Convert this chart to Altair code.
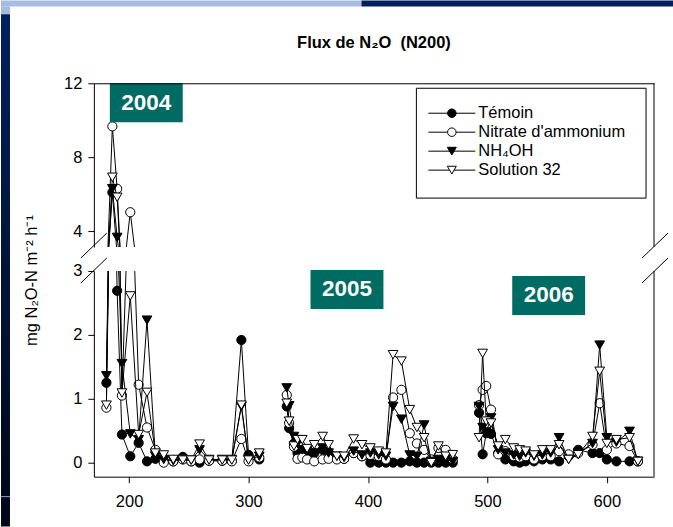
import altair as alt
import pandas as pd

# ---------------- data ----------------
series_names = ["Témoin", "Nitrate d'ammonium", "NH₄OH", "Solution 32"]

days_2004 = [181, 186, 190, 194, 201, 208, 215, 222, 229, 237, 245, 252, 259, 267, 278, 286, 294, 300, 309]
temoin_2004 = [1.25, 6.1, 2.69, 0.44, 0.10, 0.31, 0.02, 0.06, 0.03, 0.02, 0.09, 0.02, 0.00, 0.03, 0.03, 0.03, 1.92, 0.12, 0.05]
nitrate_2004 = [0.86, 9.67, 6.3, 1.05, 5.03, 1.22, 0.55, 0.20, 0.00, 0.02, 0.05, 0.02, 0.05, 0.03, 0.03, 0.02, 0.37, 0.02, 0.08]
nh4oh_2004 = [1.36, 6.3, 3.67, 1.55, 0.45, 0.36, 2.23, 0.10, 0.05, 0.03, 0.05, 0.04, 0.20, 0.05, 0.05, 0.05, 0.88, 0.05, 0.10]
sol32_2004 = [0.90, 6.92, 5.84, 1.09, 2.61, 0.44, 1.10, 0.15, 0.12, 0.05, 0.04, 0.04, 0.29, 0.04, 0.04, 0.04, 0.90, 0.04, 0.15]

days_2005 = [332, 334, 338, 341, 345, 349, 355, 362, 367, 374, 380, 388, 395, 402, 409, 415, 421, 428, 435, 441, 447, 453, 459, 465, 471]
temoin_2005 = [0.88, 0.54, 0.30, 0.15, 0.20, 0.12, 0.15, 0.20, 0.15, 0.08, 0.06, 0.15, 0.10, 0.00, 0.00, 0.00, 0.00, 0.00, 0.02, 0.00, 0.00, 0.00, 0.00, 0.00, 0.00]
nitrate_2005 = [1.06, 0.62, 0.25, 0.06, 0.08, 0.05, 0.02, 0.05, 0.06, 0.05, 0.06, 0.15, 0.10, 0.12, 0.10, 0.05, 1.02, 1.14, 0.46, 0.30, 0.20, 0.05, 0.23, 0.20, 0.05]
nh4oh_2005 = [1.17, 0.89, 0.41, 0.30, 0.20, 0.18, 0.15, 0.23, 0.15, 0.10, 0.08, 0.18, 0.12, 0.15, 0.12, 0.10, 0.88, 0.68, 0.12, 0.10, 0.59, 0.02, 0.05, 0.05, 0.02]
sol32_2005 = [0.93, 0.65, 0.26, 0.36, 0.36, 0.22, 0.28, 0.41, 0.28, 0.10, 0.10, 0.37, 0.28, 0.23, 0.18, 0.15, 1.69, 1.59, 0.83, 0.55, 0.39, 0.00, 0.26, 0.10, 0.125]

days_2006 = [493, 496, 499, 503, 509, 515, 522, 527, 532, 539, 546, 553, 560, 568, 576, 588, 594, 600, 608, 619, 626]
temoin_2006 = [0.78, 0.13, 0.46, 0.45, 0.15, 0.05, 0.02, 0.00, 0.02, 0.02, 0.05, 0.05, 0.02, 0.10, 0.20, 0.15, 0.15, 0.05, 0.02, 0.02, 0.02]
nitrate_2006 = [0.90, 1.14, 1.20, 0.83, 0.13, 0.18, 0.10, 0.08, 0.10, 0.05, 0.10, 0.10, 0.18, 0.13, 0.15, 0.28, 0.93, 0.20, 0.30, 0.26, 0.02]
nh4oh_2006 = [0.88, 0.55, 0.48, 0.70, 0.20, 0.15, 0.12, 0.10, 0.15, 0.10, 0.12, 0.15, 0.39, 0.05, 0.15, 0.30, 1.84, 0.39, 0.32, 0.49, 0.02]
sol32_2006 = [0.39, 1.71, 0.65, 0.62, 0.26, 0.36, 0.23, 0.20, 0.18, 0.12, 0.20, 0.20, 0.28, 0.05, 0.125, 0.41, 1.43, 0.30, 0.36, 0.39, 0.02]

year_labels = ["2004", "2005", "2006"]
x_ticks = [200, 300, 400, 500, 600]
y_ticks_low = [0, 1, 2, 3]
y_ticks_up = [4, 8, 12]

chart_title = "Flux de N₂O\u00a0 (N200)"
y_title = "mg N₂O-N m⁻² h⁻¹"

# ---------------- table ----------------
rows = []
tables = {
    "2004": (days_2004, [temoin_2004, nitrate_2004, nh4oh_2004, sol32_2004]),
    "2005": (days_2005, [temoin_2005, nitrate_2005, nh4oh_2005, sol32_2005]),
    "2006": (days_2006, [temoin_2006, nitrate_2006, nh4oh_2006, sol32_2006]),
}
for yr, (days, vals) in tables.items():
    for name, v in zip(series_names, vals):
        for d, val in zip(days, v):
            rows.append({"day": d, "value": val, "series": name, "year": yr})
df = pd.DataFrame(rows)
dummy = pd.DataFrame({"k": [0]})

# ---------------- style ----------------
FONT = "Liberation Sans"
W = 561
H_UP = 164
H_LO = 206
GAP = 24
LEFT = 93
TOP = 83
TOTAL_W = 673
TOTAL_H = 527
TEAL = "#006b62"
NAVY_TOP = "#00215e"
NAVY_BOT = "#000716"
LIGHT = "#a7bce2"

shapes = ["circle", "circle", "triangle-down", "triangle-down"]
fills = ["black", "white", "black", "white"]
sizes = [85, 85, 95, 95]

xscale = alt.Scale(domain=[170.5, 639.5], nice=False, zero=False)


def data_layers(yscale, xaxis, yaxis):
    layers = []
    for i, name in enumerate(series_names):
        d = df[df.series == name]
        enc = dict(
            x=alt.X("day:Q", scale=xscale, axis=xaxis),
            y=alt.Y("value:Q", scale=yscale, axis=yaxis),
        )
        layers.append(
            alt.Chart(d).mark_line(color="black", strokeWidth=1, clip=True).encode(detail="year:N", **enc)
        )
        layers.append(
            alt.Chart(d).mark_point(shape=shapes[i], filled=True, fill=fills[i], stroke="black",
                                    strokeWidth=1, size=sizes[i], opacity=1, clip=True).encode(**enc)
        )
    return layers


def rect(x1, x2, y1, y2, **kw):
    return alt.Chart(dummy).mark_rect(**kw).encode(
        x=alt.value(x1), x2=alt.value(x2), y=alt.value(y1), y2=alt.value(y2))


def seg(x1, y1, x2, y2, color="black"):
    return alt.Chart(dummy).mark_rule(color=color, strokeWidth=1).encode(
        x=alt.value(x1), y=alt.value(y1), x2=alt.value(x2), y2=alt.value(y2))


def label(txt, x, y, **kw):
    return alt.Chart(dummy).mark_text(text=txt, font=FONT, **kw).encode(x=alt.value(x), y=alt.value(y))


def year_box(txt, x1, y1):
    return [
        rect(x1, x1 + 73, y1, y1 + 39, fill=TEAL),
        label(txt, x1 + 36.5, y1 + 19.5, fontSize=22.5, fontWeight="bold", color="white",
              align="center", baseline="middle"),
    ]


# ---------------- upper panel ----------------
gradient = alt.LinearGradient(
    gradient="linear", x1=0, x2=0, y1=0, y2=1,
    stops=[alt.GradientStop(color=NAVY_TOP, offset=0), alt.GradientStop(color=NAVY_BOT, offset=1)])

deco_up = [
    # invisible frame that fixes the page extent
    rect(-LEFT, TOTAL_W - LEFT, -TOP, TOTAL_H - TOP, fill="white", opacity=0),
    rect(-LEFT, 361 - LEFT, -TOP, 6 - TOP, fill=LIGHT),
    rect(361 - LEFT, TOTAL_W - LEFT, -TOP, 6 - TOP, fill=NAVY_TOP),
    rect(-LEFT, 9 - LEFT, 6 - TOP, 14 - TOP, fill=LIGHT),
    rect(-LEFT, 9 - LEFT, 14 - TOP, TOTAL_H - TOP, fill=gradient),
    seg(-LEFT, 497 - TOP, 9 - LEFT, 497 - TOP, color="#8fa6d6"),
    label(chart_title, W / 2, -40, fontSize=16.5, fontWeight="bold", color="black",
          align="center", baseline="middle"),
]

up_xaxis = alt.Axis(orient="top", labels=False, ticks=False, domain=True, title=None, grid=False, zindex=1)
up_yaxis = alt.Axis(values=y_ticks_up, title=None, grid=False, zindex=1)
up_scale = alt.Scale(domain=[3.15, 12], nice=False, zero=False)

legend_layers = [rect(323, 553, 5, 115, fill="white", stroke="black", strokeWidth=1)]
for i, name in enumerate(series_names):
    ly = 30 + i * 19
    legend_layers.append(seg(335, ly, 382, ly))
    legend_layers.append(
        alt.Chart(dummy).mark_point(shape=shapes[i], filled=True, fill=fills[i], stroke="black",
                                    strokeWidth=1, size=sizes[i] * 0.85, opacity=1)
        .encode(x=alt.value(358.5), y=alt.value(ly)))
    legend_layers.append(label(name, 385, ly, fontSize=16.5, color="black", align="left", baseline="middle"))

upper = alt.layer(
    *deco_up,
    *data_layers(up_scale, up_xaxis, up_yaxis),
    seg(W, 0, W, H_UP),
    seg(-13, 175, 13, 150),
    seg(549, 175, 575, 150),
    *year_box(year_labels[0], 16, 0),
    *legend_layers,
).properties(width=W, height=H_UP)

# ---------------- lower panel ----------------
lo_xaxis = alt.Axis(values=x_ticks, title=None, grid=False, labelPadding=11, zindex=1)
lo_yaxis = alt.Axis(values=y_ticks_low, title=y_title, grid=False, titleX=-62, titleY=9,
                    titleAngle=270, titleAlign="center", titleBaseline="middle",
                    titleFont=FONT, titleFontSize=16.5, titleFontWeight="normal", titleColor="black",
                    zindex=1)
lo_scale = alt.Scale(domain=[-0.22, 3.0], nice=False, zero=False)

lower = alt.layer(
    *data_layers(lo_scale, lo_xaxis, lo_yaxis),
    seg(W, 0, W, H_LO),
    seg(-13, 12, 13, -13),
    seg(549, 12, 575, -13),
    *year_box(year_labels[1], 217, -1),
    *year_box(year_labels[2], 419, 5),
).properties(width=W, height=H_LO)

chart = alt.VConcatChart(vconcat=[upper, lower], spacing=GAP, bounds="flush", padding=0,
                         background="white").configure_view(stroke=None).configure_axis(
    labelFont=FONT, labelFontSize=16.5, labelColor="black", domainColor="black", tickColor="black",
    tickSize=6, labelPadding=6, grid=False, domainWidth=1, tickWidth=1)

chart.save("out.html", embed_options={"renderer": "svg", "actions": False})
